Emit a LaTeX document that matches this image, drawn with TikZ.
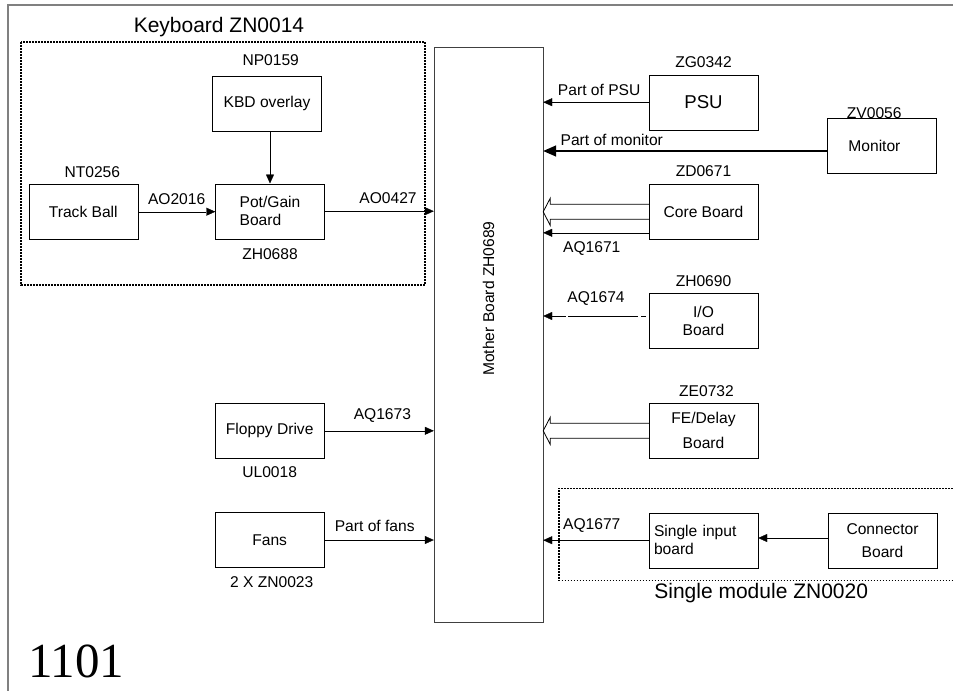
\documentclass[tikz,border=0pt]{standalone}
\usepackage{fontspec}
\setmainfont{Liberation Sans}
\newfontfamily\serialfont{Liberation Serif}
\usetikzlibrary{arrows.meta,positioning,calc}

\begin{document}
\begin{tikzpicture}[
  x=1pt, y=-1pt,
  node distance=7pt,
  box/.style={draw, minimum width=109pt, minimum height=55pt, inner sep=2pt, align=center, font=\fontsize{15.6}{18}\selectfont},
  tag/.style={inner sep=0pt, font=\fontsize{15.6}{18}\selectfont},
  grouplabel/.style={inner sep=0pt, font=\fontsize{21}{24}\selectfont},
  dotbox/.style={line width=1.8pt, dash pattern=on 1.6pt off 1.4pt},
  arr/.style={-{Triangle[length=9pt,width=8pt]}},
  bigarr/.style={line width=1.5pt, -{Triangle[length=13pt,width=11pt]}},
  hollow/.style={line width=0.8pt, line join=miter}
]
\useasboundingbox (0,0) rectangle (953,691);
\draw[black!50, line width=2pt] (953,5) -- (8,5) -- (8,691);

% keyboard group
\node[box] (track) at (83.3,211.7) {Track Ball};
\node[box] (kbd) at (267,103.7) {KBD overlay};
\node[box, align=left] (pot) at (270,211.2) {Pot/Gain\\Board};
\node[tag, above=6.6pt of track, xshift=9pt] (trackid) {NT0256};
\node[tag, above=10pt of kbd, xshift=3.7pt] (kbdid) {NP0159};
\node[tag, below=9.3pt of pot] (potid) {ZH0688};
\node[grouplabel] (kbdgroup) at (219,27) {Keyboard ZN0014};
\draw[dotbox] (21,42) rectangle (425,285);

% left lower
\node[box] (floppy) at (269.7,430.8) {Floppy Drive};
\node[box] (fans) at (269.7,540) {Fans};
\node[tag, below=7.7pt of floppy] (floppyid) {UL0018};
\node[tag, below=8.7pt of fans, xshift=2pt] (fansid) {2 X ZN0023};

% mother board
\node[draw=black!75, minimum width=109pt, minimum height=574.7pt] (mb) at (488.5,334.7) {};
\node[tag, rotate=90] (mbname) at (488.5,298.5) {Mother Board ZH0689};

% right side
\node[box, font=\fontsize{18.6}{21}\selectfont] (psu) at (703.5,102.2) {PSU};
\node[box, align=left, text width=65.6pt, inner xsep=21.7pt] (monitor) at (881.2,146) {Monitor};
\node[box] (core) at (703.5,211.8) {Core Board};
\node[box] (io) at (703.5,321) {I/O\\Board};
\node[box] (fe) at (703.5,430.8) {FE/Delay\\[7pt]Board};
\node[box, align=left, text width=99pt, inner xsep=5pt] (single) at (703.5,540.2) {Single input\\board};
\node[box] (conn) at (882.5,540.5) {Connector\\[5pt]Board};
\node[tag, above=6.6pt of psu] (psuid) {ZG0342};
\node[tag, above=-0.3pt of monitor, xshift=-7pt] (monid) {ZV0056};
\node[tag, above=6.9pt of core] (coreid) {ZD0671};
\node[tag, above=6.9pt of io] (ioid) {ZH0690};
\node[tag, above=6.6pt of fe, xshift=3pt] (feid) {ZE0732};
\node[grouplabel] (singlegroup) at (761.2,592.7) {Single module ZN0020};
\draw[dotbox, line width=1.2pt] (953,488.3) -| (559,580.7) -- (953,580.7);

% connections
\draw[arr] (track.east) -- (track.east -| pot.west) node[tag, midway, above=7.3pt] {AO2016};
\draw[arr] (pot.north |- kbd.south) -- (pot.north);
\draw[arr] (pot.east) -- (pot.east -| mb.west) node[tag, pos=0.58, above=7.3pt] {AO0427};
\draw[arr] (floppy.east) -- (floppy.east -| mb.west) node[tag, pos=0.53, above=8pt] {AQ1673};
\draw[arr] (fans.east) -- (fans.east -| mb.west) node[tag, pos=0.46, above=8.6pt] {Part of fans};
\draw[arr] (psu.west) -- (psu.west -| mb.east) node[tag, pos=0.47, above=6.3pt] {Part of PSU};
\draw[bigarr] ([yshift=-5pt]monitor.west) -- ([yshift=-5pt]monitor.west -| mb.east) node[tag, pos=0.758, above=4.3pt] {Part of monitor};
\draw[arr] ([yshift=-21pt]core.west) -- ([yshift=-21pt]core.west -| mb.east) node[tag, pos=0.54, below=9pt] {AQ1671};
\draw[arr, dash pattern=on 5pt off 3.3pt on 70pt off 2.3pt on 30pt off 2.7pt, dash phase=110.6pt] ([yshift=5pt]io.west) -- ([yshift=5pt]io.west -| mb.east) node[tag, midway, above=10pt] {AQ1674};
\draw[arr] (single.west) -- (single.west -| mb.east) node[tag, pos=0.54, above=7.9pt] {AQ1677};
\draw[arr] ([yshift=2.5pt]conn.west) -- ([yshift=2.5pt]conn.west -| single.east);

% wide buses
\foreach \src in {core,fe} {
  \draw[hollow] ($(\src.west)+(0,-7.5)$) -- ($(\src.west -| mb.east)+(7,-7.5)$)
    -- ($(\src.west -| mb.east)+(7,-13.5)$) -- (\src.west -| mb.east)
    -- ($(\src.west -| mb.east)+(7,13.5)$) -- ($(\src.west -| mb.east)+(7,7.5)$)
    -- ($(\src.west)+(0,7.5)$);
}

\node[font=\serialfont\fontsize{49}{50}\selectfont, inner sep=0pt, anchor=base west] (figno) at (28,677.7) {1101};
\end{tikzpicture}
\end{document}
